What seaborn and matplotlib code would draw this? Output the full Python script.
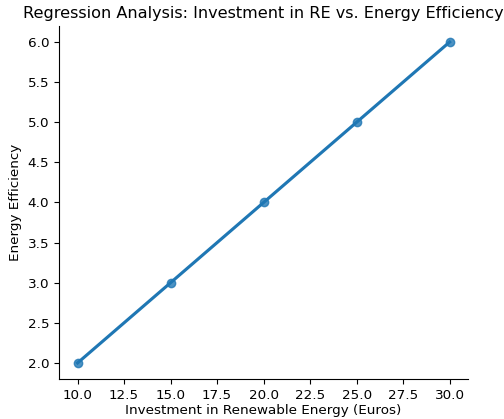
import pandas as pd
import seaborn as sns
import matplotlib
matplotlib.use('Agg')
import matplotlib.pyplot as plt

# Data
investment = [10, 15, 20, 25, 30]
efficiency = [2, 3, 4, 5, 6]

df = pd.DataFrame({'Investment in Renewable Energy (Euros)': investment,
                   'Energy Efficiency': efficiency})

plt.rcParams['font.size'] = 9.7
plt.rcParams['axes.titlesize'] = 11.65

fig = plt.figure(figsize=(5.04, 4.19), dpi=100)
ax = fig.add_axes([0.117, 0.0955, 0.812, 0.8425])

sns.regplot(data=df, x='Investment in Renewable Energy (Euros)', y='Energy Efficiency', ax=ax)
sns.despine(ax=ax)

ax.set_xticks([10, 12.5, 15, 17.5, 20, 22.5, 25, 27.5, 30])
ax.set_xlim(9, 31)
ax.set_ylim(1.8, 6.2)
ax.xaxis.labelpad = 1.5
ax.set_title('Regression Analysis: Investment in RE vs. Energy Efficiency')

fig.savefig('out.png', dpi=100)
